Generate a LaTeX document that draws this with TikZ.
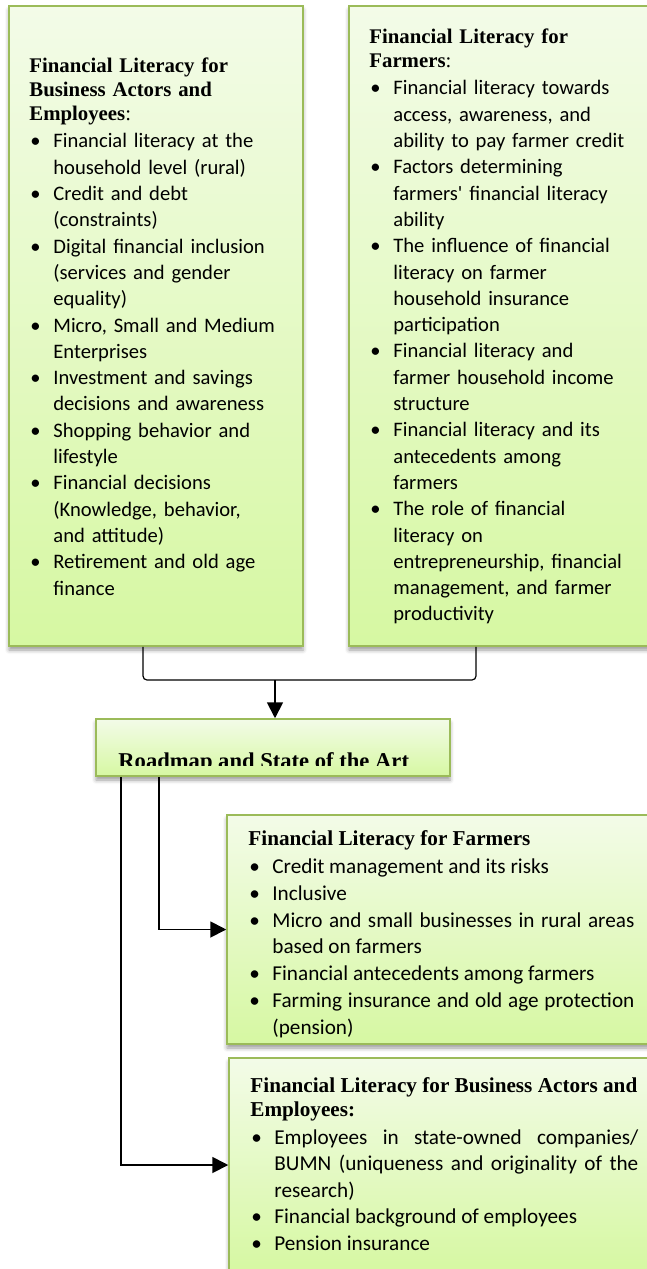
\documentclass[tikz,border=0pt]{standalone}
\usepackage{fontspec}
\setmainfont{Liberation Serif}
\newfontfamily\bodyfont{Carlito}
\usetikzlibrary{arrows.meta,fit,shadows.blur}

\definecolor{panelTop}{HTML}{F3FBE8}
\definecolor{panelBot}{HTML}{D6F8A2}
\definecolor{panelEdge}{HTML}{9BBB59}

\newcommand\headsize{10.4pt}
\newcommand\headline[1]{{\rmfamily\fontsize{\headsize}{12pt}\selectfont #1\par}\vspace{0.8pt}}
\newcommand\bitem{\par\noindent\hangindent=12pt\hangafter=1\hbox to 12pt{\hskip0.5pt•\hss}}

\tikzset{
    panel/.style={
        draw=panelEdge,
        line width=0.75pt,
        top color=panelTop,
        bottom color=panelBot,
        inner sep=0pt,
        blur shadow={shadow xshift=0pt, shadow yshift=-2pt,
            shadow blur radius=2pt, shadow opacity=40}
    },
    listtext/.style={
        inner sep=0pt,
        anchor=base west,
        font=\bodyfont\fontsize{10.3pt}{13.15pt}\selectfont
    },
    link/.style={
        line width=0.9pt,
        -{Triangle[length=8pt,width=8pt]}
    },
    brace/.style={
        line width=0.6pt,
        rounded corners=2pt
    }
}

\begin{document}
\begin{tikzpicture}[x=0.5pt, y=-0.5pt]

\useasboundingbox (0,0) rectangle (647,1269);
\clip (0,0) rectangle (647,1269);


% Caixes superiors

\node[panel, fit={(9,6) (303,646)}] (biz-top) {};
\node[panel, fit={(349,6) (660,646)}] (farm-top) {};

\node[listtext, text width=140pt] (biz-top-text) at (29,72) {\raggedright
    \headline{\textbf{Financial Literacy for\newline Business Actors and\newline Employees}:}
    \bitem Financial literacy at the\newline household level (rural)
    \bitem Credit and debt\newline (constraints)
    \bitem Digital financial inclusion\newline (services and gender\newline equality)
    \bitem Micro, Small and Medium\newline Enterprises
    \bitem Investment and savings\newline decisions and awareness
    \bitem Shopping behavior and\newline lifestyle
    \bitem Financial decisions\newline (Knowledge, behavior,\newline and attitude)
    \bitem Retirement and old age\newline finance\par
};

\node[listtext, text width=140pt] (farm-top-text) at (369,43) {\raggedright
    \headline{\textbf{Financial Literacy for\newline Farmers}:}
    \bitem Financial literacy towards\newline access, awareness, and\newline ability to pay farmer credit
    \bitem Factors determining\newline farmers' financial literacy\newline ability
    \bitem The influence of financial\newline literacy on farmer\newline household insurance\newline participation
    \bitem Financial literacy and\newline farmer household income\newline structure
    \bitem Financial literacy and its\newline antecedents among\newline farmers
    \bitem The role of financial\newline literacy on\newline entrepreneurship, financial\newline management, and farmer\newline productivity\par
};


% Full de ruta

\node[panel, fit={(96,719) (450,776)}] (road) {};

\begin{scope}
    \clip (road.north west) rectangle ([yshift=5.5pt]road.south east);
    \node[inner sep=0pt, anchor=base west, font=\rmfamily\bfseries\fontsize{11.3pt}{12pt}\selectfont]
        (road-title) at (118,768) {Roadmap and State of the Art};
\end{scope}


% Caixes inferiors

\renewcommand\headsize{10.6pt}

\node[panel, fit={(227,815) (660,1044)}] (farm-low) {};
\node[panel, fit={(229,1058) (660,1272)}] (biz-low) {};

\node[listtext, text width=193pt, align=justify,
    font=\bodyfont\fontsize{10.6pt}{13.4pt}\selectfont] (farm-low-text) at (248,845) {%
    \headline{\textbf{Financial Literacy for Farmers}}
    \bitem Credit management and its risks
    \bitem Inclusive
    \bitem Micro and small businesses in rural areas\linebreak based on farmers
    \bitem Financial antecedents among farmers
    \bitem Farming insurance and old age protection\linebreak (pension)\par
};

\node[listtext, text width=194pt, align=justify,
    font=\bodyfont\fontsize{10.6pt}{13.25pt}\selectfont] (biz-low-text) at (250,1092) {%
    \headline{\textbf{\mbox{Financial Literacy for Business Actors and}\newline Employees:}}
    \bitem Employees in state-owned companies/\linebreak BUMN (uniqueness and originality of the\linebreak research)
    \bitem Financial background of employees
    \bitem Pension insurance\par
};


% Claudàtor i fletxes

\coordinate (merge) at (275,680);

\draw[brace] ([xshift=-6.5pt]biz-top.south) |- (merge) -| ([xshift=-14.25pt]farm-top.south);

\draw[link] (merge) -- (merge |- road.north);

\draw[link] ([xshift=32pt]road.south west) |- (farm-low.west);

\draw[link] ([xshift=13pt]road.south west) |- (biz-low.west);

\end{tikzpicture}
\end{document}
